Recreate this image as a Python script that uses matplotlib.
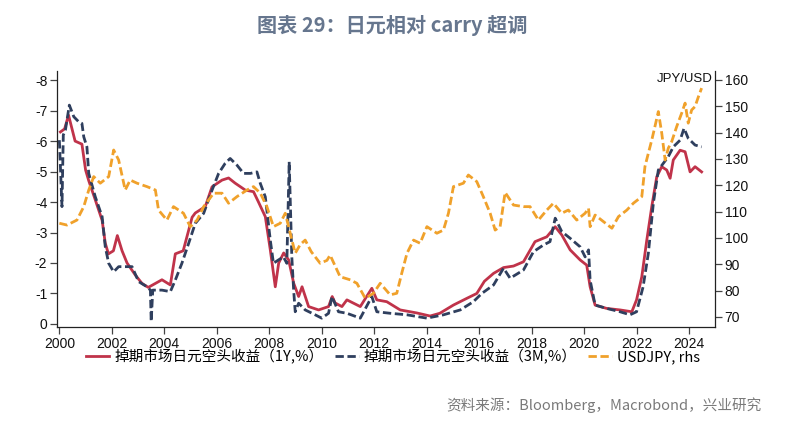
import matplotlib
matplotlib.use("Agg")
import matplotlib.pyplot as plt

plt.rcParams['font.family'] = ['Liberation Sans', 'Noto Sans CJK SC']
plt.rcParams['axes.unicode_minus'] = False

# 1Y short-JPY carry return (magnitude, plotted negative on an inverted axis)
yr_1y = [2000.04, 2000.2, 2000.35, 2000.6, 2000.86, 2001.0, 2001.12, 2001.37, 2001.63, 2001.75,
         2001.87, 2002.06, 2002.21, 2002.39, 2002.58, 2002.9, 2003.15, 2003.39, 2003.66, 2003.91,
         2004.23, 2004.42, 2004.72, 2005.06, 2005.18, 2005.56, 2005.82, 2006.2, 2006.45, 2006.7,
         2007.09, 2007.4, 2007.59, 2007.85, 2008.04, 2008.23, 2008.36, 2008.55, 2008.74, 2008.93,
         2009.12, 2009.25, 2009.5, 2009.88, 2010.26, 2010.4, 2010.51, 2010.77, 2010.96, 2011.47,
         2011.91, 2012.1, 2012.48, 2012.99, 2013.63, 2014.13, 2014.5, 2015.02, 2015.53, 2015.91,
         2016.2, 2016.55, 2016.93, 2017.31, 2017.69, 2018.13, 2018.58, 2018.9, 2019.15, 2019.47,
         2019.85, 2020.1, 2020.23, 2020.42, 2020.86, 2021.37, 2021.82, 2022.0, 2022.2, 2022.39,
         2022.58, 2022.77, 2022.96, 2023.15, 2023.28, 2023.4, 2023.66, 2023.85, 2024.04, 2024.23,
         2024.48]
val_1y = [6.3, 6.4, 6.85, 6.0, 5.9, 5.05, 4.7, 4.07, 3.4, 2.65,
          2.3, 2.4, 2.9, 2.4, 2.0, 1.6, 1.33, 1.2, 1.33, 1.45,
          1.28, 2.3, 2.4, 3.5, 3.64, 3.85, 4.5, 4.72, 4.79, 4.62,
          4.39, 4.34, 4.0, 3.52, 2.43, 1.22, 2.0, 2.33, 2.1, 1.34,
          0.9, 1.22, 0.57, 0.46, 0.57, 0.9, 0.69, 0.57, 0.79, 0.57,
          1.17, 0.79, 0.73, 0.46, 0.36, 0.26, 0.35, 0.62, 0.84, 1.0,
          1.4, 1.66, 1.85, 1.9, 2.04, 2.7, 2.86, 3.19, 2.92, 2.43,
          2.1, 1.93, 1.22, 0.62, 0.51, 0.46, 0.4, 0.79, 1.55, 2.75,
          3.85, 4.83, 5.16, 5.05, 4.78, 5.38, 5.7, 5.65, 4.99, 5.16,
          4.99]

# 3M short-JPY carry return
yr_3m = [2000.0, 2000.1, 2000.15, 2000.23, 2000.38, 2000.55, 2000.74, 2000.86, 2000.93, 2001.05,
         2001.12, 2001.37, 2001.63, 2001.75, 2001.88, 2002.07, 2002.26, 2002.51, 2002.77, 2003.02,
         2003.34, 2003.47, 2003.5, 2003.56, 2003.91, 2004.23, 2004.42, 2004.67, 2004.93, 2005.18,
         2005.5, 2005.82, 2006.07, 2006.32, 2006.51, 2006.77, 2007.02, 2007.28, 2007.53, 2007.66,
         2007.85, 2008.04, 2008.16, 2008.35, 2008.54, 2008.67, 2008.76, 2008.86, 2008.93, 2008.99,
         2009.12, 2009.37, 2009.75, 2010.0, 2010.26, 2010.39, 2010.64, 2010.96, 2011.47, 2011.91,
         2012.1, 2012.61, 2013.25, 2014.01, 2014.64, 2015.28, 2015.78, 2016.1, 2016.55, 2016.93,
         2017.18, 2017.69, 2018.07, 2018.45, 2018.7, 2018.9, 2019.15, 2019.47, 2019.85, 2020.04,
         2020.17, 2020.23, 2020.42, 2020.86, 2021.37, 2021.75, 2022.0, 2022.25, 2022.45, 2022.64,
         2022.83, 2023.02, 2023.21, 2023.4, 2023.66, 2023.81, 2023.97, 2024.23, 2024.48]
val_3m = [6.03, 3.85, 6.2, 6.36, 7.18, 6.8, 6.63, 6.58, 6.14, 5.81,
          4.94, 4.17, 3.52, 2.53, 1.99, 1.71, 1.88, 1.88, 1.88, 1.39,
          1.22, 1.11, 0.08, 1.11, 1.11, 1.06, 1.44, 1.99, 2.65, 3.3,
          3.63, 4.39, 4.94, 5.27, 5.43, 5.21, 4.94, 4.94, 4.99, 4.61,
          4.17, 2.75, 1.99, 2.1, 2.2, 1.99, 5.32, 2.2, 1.11, 0.4,
          0.68, 0.46, 0.3, 0.19, 0.35, 0.9, 0.4, 0.35, 0.19, 0.9,
          0.4, 0.35, 0.3, 0.19, 0.3, 0.46, 0.73, 1.0, 1.28, 1.83,
          1.5, 1.77, 2.37, 2.59, 2.7, 3.47, 3.03, 2.81, 2.53, 2.2,
          2.43, 1.44, 0.62, 0.51, 0.4, 0.3, 0.4, 1.22, 2.32, 3.96,
          5.05, 5.27, 5.49, 5.81, 6.03, 6.42, 6.09, 5.87, 5.81]

# USDJPY (right axis)
yr_fx = [2000.0, 2000.29, 2000.67, 2000.93, 2001.12, 2001.31, 2001.56, 2001.88, 2002.07, 2002.26,
         2002.51, 2002.7, 2002.96, 2003.34, 2003.66, 2003.78, 2004.1, 2004.35, 2004.73, 2004.99,
         2005.25, 2005.5, 2005.88, 2006.2, 2006.45, 2006.77, 2007.15, 2007.4, 2007.66, 2007.91,
         2008.16, 2008.42, 2008.61, 2008.8, 2008.99, 2009.18, 2009.37, 2009.6, 2009.94, 2010.2,
         2010.32, 2010.7, 2011.09, 2011.34, 2011.66, 2011.97, 2012.23, 2012.61, 2012.86, 2013.05,
         2013.25, 2013.5, 2013.75, 2014.01, 2014.39, 2014.64, 2014.83, 2015.02, 2015.4, 2015.59,
         2015.91, 2016.16, 2016.42, 2016.61, 2016.8, 2016.99, 2017.31, 2017.69, 2017.94, 2018.26,
         2018.58, 2018.83, 2019.15, 2019.4, 2019.72, 2020.04, 2020.17, 2020.23, 2020.42, 2020.74,
         2021.06, 2021.31, 2021.63, 2021.88, 2022.2, 2022.32, 2022.45, 2022.58, 2022.7, 2022.83,
         2022.96, 2023.09, 2023.21, 2023.34, 2023.53, 2023.72, 2023.85, 2023.97, 2024.1, 2024.23,
         2024.36, 2024.48]
val_fx = [105.6, 104.9, 106.8, 111.9, 118.2, 123.3, 120.8, 123.3, 133.4, 129.6,
          118.2, 122.0, 120.8, 119.5, 118.2, 110.6, 106.8, 111.9, 109.4, 104.3,
          106.8, 111.9, 117.0, 117.0, 113.2, 115.7, 118.2, 119.5, 117.0, 111.9,
          104.3, 105.6, 109.4, 101.8, 94.2, 97.5, 99.2, 94.8, 90.4, 91.5,
          93.5, 85.3, 84.1, 82.8, 77.1, 79.0, 82.8, 78.4, 79.0, 86.6,
          94.2, 99.2, 98.0, 104.3, 101.8, 103.0, 109.4, 119.5, 120.8, 123.9,
          121.4, 115.7, 109.4, 103.0, 104.3, 117.3, 112.5, 111.9, 111.9, 106.8,
          110.6, 113.2, 109.4, 110.6, 106.8, 109.4, 111.3, 104.3, 108.7, 106.2,
          103.7, 108.1, 110.6, 113.2, 115.7, 127.1, 132.2, 137.2, 142.3, 148.0,
          139.8, 129.6, 134.1, 136.6, 142.3, 147.4, 151.2, 143.6, 148.6, 149.9,
          153.7, 156.9]

xticks = list(range(2000, 2025, 2))
left_ticks = list(range(0, -9, -1))
right_ticks = list(range(70, 161, 10))

lbl_1y = '掉期市场日元空头收益（1Y,%）'
lbl_3m = '掉期市场日元空头收益（3M,%）'
lbl_fx = 'USDJPY, rhs'

c_red = '#c0334a'
c_navy = '#2f3f5e'
c_orange = '#f0a12b'

fig = plt.figure(figsize=(7.87, 4.26), dpi=100)
ax = fig.add_axes([57/787, 1 - 327/426, (715 - 57)/787, (327 - 71)/426])
ax2 = ax.twinx()

l1, = ax.plot(yr_1y, [-v for v in val_1y], color=c_red, lw=2.0, solid_joinstyle='round')
l2, = ax.plot(yr_3m, [-v for v in val_3m], color=c_navy, lw=2.0, dashes=(3, 1.3))
l3, = ax2.plot(yr_fx, val_fx, color=c_orange, lw=2.0, dashes=(3, 1.3))

ax.set_xlim(1999.91, 2024.99)
ax.set_ylim(0.1, -8.3)
ax2.set_ylim(66.2, 163.4)

ax.set_xticks(xticks)
ax.set_xticklabels([str(x) for x in xticks])
ax.set_yticks(left_ticks)
ax.set_yticklabels([str(t) for t in left_ticks])
ax2.set_yticks(right_ticks)

for a in (ax, ax2):
    a.spines['top'].set_visible(False)
    for s in a.spines.values():
        s.set_color('#222222')
        s.set_linewidth(0.9)
    a.tick_params(direction='out', length=5, width=0.9, color='#444444',
                  labelsize=10, labelcolor='#111111', pad=2)
ax.spines['right'].set_visible(False)
ax2.spines['left'].set_visible(False)
ax2.spines['bottom'].set_visible(False)

ax2.text(0.997, 0.969, 'JPY/USD', transform=ax2.transAxes, ha='right', va='center',
         fontsize=9.5, color='#111111')

fig.legend([l1, l2, l3], [lbl_1y, lbl_3m, lbl_fx], loc='center',
           bbox_to_anchor=(393/787, 1 - 357/426), ncol=3, frameon=False,
           prop={'family': ['Noto Sans CJK SC'], 'size': 10.5},
           handlelength=1.6, handletextpad=0.35, columnspacing=0.8)

fig.text(392/787, 1 - 26/426, '图表 29：日元相对 carry 超调', ha='center', va='center',
         fontsize=14.5, fontweight='bold', color='#66768e', family=['Noto Sans CJK SC'])

fig.text(762/787, 1 - 405/426, '资料来源：Bloomberg，Macrobond，兴业研究', ha='right', va='center',
         fontsize=10.5, color='#7a7a7a', family=['Noto Sans CJK SC'])

fig.savefig('out.png', dpi=100)
